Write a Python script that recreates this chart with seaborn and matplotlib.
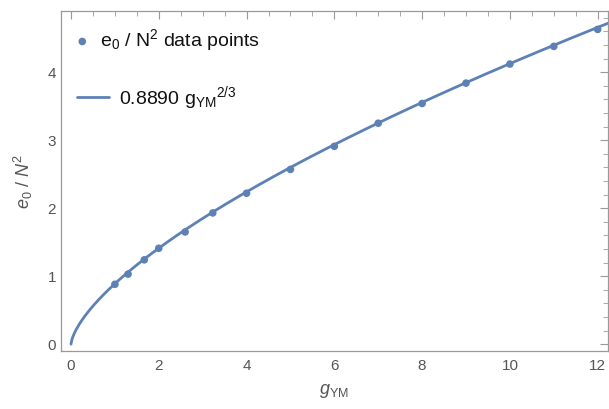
import numpy as np
import pandas as pd
import matplotlib
matplotlib.use("Agg")
import matplotlib.pyplot as plt
from matplotlib.ticker import MultipleLocator
import seaborn as sns

# data
g_points = [1.0, 1.3, 1.67, 2.0, 2.6, 3.23, 4.0, 5.0, 6.0, 7.0, 8.0, 9.0, 10.0, 11.0, 12.0]
e_points = [0.88, 1.03, 1.24, 1.41, 1.65, 1.93, 2.22, 2.57, 2.91, 3.25, 3.54, 3.84, 4.12, 4.38, 4.63]
fit_coef = 0.8890
fit_power = 2.0 / 3.0

x_ticks = [0, 2, 4, 6, 8, 10, 12]
y_ticks = [0, 1, 2, 3, 4]

sns.set_style("white")
plt.rcParams['font.family'] = ['Liberation Sans', 'DejaVu Sans']
plt.rcParams['mathtext.fontset'] = 'custom'
plt.rcParams['mathtext.rm'] = 'Liberation Sans'
plt.rcParams['mathtext.it'] = 'Liberation Sans:italic'
plt.rcParams['mathtext.default'] = 'regular'

blue = '#5E81B5'
frame = '#999999'
textc = '#555555'

fig = plt.figure(figsize=(6.09, 4.09), dpi=100)
ax = fig.add_axes([0.100, 0.142, 0.898, 0.831])

g_curve = np.linspace(0, 12.3, 600)
df_curve = pd.DataFrame({'g': g_curve, 'e': fit_coef * g_curve ** fit_power})
df_pts = pd.DataFrame({'g': g_points, 'e': e_points})

sns.scatterplot(data=df_pts, x='g', y='e', ax=ax, color=blue, s=30, edgecolor='none',
                label=r'e$_0$ / N$^2$ data points', zorder=3, legend=False)
sns.lineplot(data=df_curve, x='g', y='e', ax=ax, color=blue, lw=2,
             label=r'0.8890 g$_{YM}{}^{2/3}$', zorder=2)

ax.set_xlim(-0.23, 12.23)
ax.set_ylim(-0.10, 4.90)
ax.set_xticks(x_ticks)
ax.set_yticks(y_ticks)
ax.xaxis.set_minor_locator(MultipleLocator(0.5))
ax.yaxis.set_minor_locator(MultipleLocator(0.2))
ax.tick_params(which='both', direction='in', top=True, right=True, color=frame,
               labelcolor=textc, labelsize=11)
ax.tick_params(which='major', length=6, width=0.8)
ax.tick_params(which='minor', length=3.5, width=0.6)
ax.tick_params(axis='x', pad=6)
for s in ax.spines.values():
    s.set_color(frame)
    s.set_linewidth(0.9)

ax.set_xlabel(r'$\mathit{g}_{YM}$', color=textc, fontsize=13, labelpad=6)
ax.set_ylabel(r'$\mathit{e}_0$ / $\mathit{N}^2$', color=textc, fontsize=13, labelpad=9)

handles, labels = ax.get_legend_handles_labels()
h_pts = [h for h, l in zip(handles, labels) if 'data' in l]
l_pts = [l for l in labels if 'data' in l]
h_line = [h for h, l in zip(handles, labels) if 'data' not in l]
l_line = [l for l in labels if 'data' not in l]

leg1 = ax.legend(h_pts, l_pts, loc='upper left', frameon=False, fontsize=14,
                 handlelength=0.5, borderaxespad=0.35, handletextpad=0.65, borderpad=0.5)
for t in leg1.get_texts():
    t.set_color('#111111')
ax.add_artist(leg1)

leg2 = ax.legend(h_line, l_line, loc='upper left', bbox_to_anchor=(0, 0.835),
                 frameon=False, fontsize=14, handlelength=1.6,
                 borderaxespad=0.35, handletextpad=0.55, borderpad=0.5)
for t in leg2.get_texts():
    t.set_color('#111111')

fig.savefig('out.png', dpi=100)
